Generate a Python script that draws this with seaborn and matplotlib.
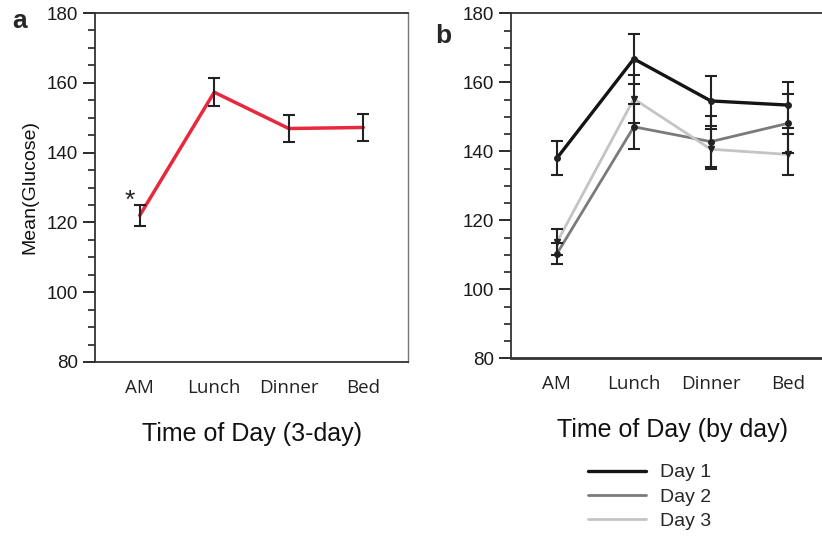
import matplotlib
matplotlib.use("Agg")
import matplotlib.pyplot as plt
import seaborn as sns
import pandas as pd
import numpy as np
from matplotlib.ticker import MultipleLocator
from matplotlib.lines import Line2D

sns.set_style("ticks")
plt.rcParams['font.family'] = ['Liberation Sans', 'DejaVu Sans']

# ---- data ----
times = ["AM", "Lunch", "Dinner", "Bed"]
mean_3day = [122.0, 157.3, 146.9, 147.2]
err_3day = [3.0, 4.0, 4.0, 3.8]

days = ["Day 1", "Day 2", "Day 3"]
mean_day1 = [138.0, 166.8, 154.6, 153.4]
err_day1 = [5.0, 7.3, 7.2, 6.6]
mean_day2 = [110.3, 147.1, 142.8, 148.1]
err_day2 = [3.0, 6.5, 7.3, 8.5]
mean_day3 = [113.6, 155.2, 140.6, 139.1]
err_day3 = [3.8, 6.9, 5.8, 6.0]

y_ticks = [80, 100, 120, 140, 160, 180]

red = "#e8283c"
day_colors = {"Day 1": "#141414", "Day 2": "#7a7a7a", "Day 3": "#c4c4c4"}
day_widths = {"Day 1": 2.4, "Day 2": 2.0, "Day 3": 2.0}
day_markers = {"Day 1": "o", "Day 2": "o", "Day 3": "v"}

fig = plt.figure(figsize=(8.22, 5.40), dpi=100)
ax_a = fig.add_axes([95/822, 1-362/540, (408-95)/822, (362-13)/540])
ax_b = fig.add_axes([510.7/822, 1-358.3/540, (834-510.7)/822, (358.3-13.3)/540])

pos = np.arange(len(times))

# ---- panel a ----
df_a = pd.DataFrame({"pos": pos, "mean": mean_3day})
sns.lineplot(data=df_a, x="pos", y="mean", ax=ax_a, color=red, linewidth=2.5)
ax_a.errorbar(pos, mean_3day, yerr=err_3day, fmt="none", ecolor="#222222",
              elinewidth=1.5, capsize=4.2, capthick=1.5, zorder=3)
ax_a.text(-0.13, 126.2, "*", fontsize=19, ha="center", va="center", color="#222222")

# ---- panel b ----
rows = []
for d, m in zip(days, [mean_day1, mean_day2, mean_day3]):
    for p, v in zip(pos, m):
        rows.append({"pos": p, "mean": v, "day": d})
df_b = pd.DataFrame(rows)
for d in days:
    sub = df_b[df_b["day"] == d]
    sns.lineplot(data=sub, x="pos", y="mean", ax=ax_b, color=day_colors[d],
                 linewidth=day_widths[d], legend=False)
for d, m, e in zip(days, [mean_day1, mean_day2, mean_day3], [err_day1, err_day2, err_day3]):
    ax_b.errorbar(pos, m, yerr=e, fmt=day_markers[d], color="#222222", markersize=4,
                  ecolor="#222222", elinewidth=1.5, capsize=4.2, capthick=1.5, zorder=3)

for ax, xlabel in [(ax_a, "Time of Day (3-day)"), (ax_b, "Time of Day (by day)")]:
    ax.set_xlim(-0.6, 3.6)
    ax.set_ylim(80, 180)
    ax.set_yticks(y_ticks)
    ax.yaxis.set_minor_locator(MultipleLocator(5))
    ax.set_xticks(pos)
    ax.set_xticklabels(times, family=["Open Sans", "DejaVu Sans"], fontsize=13.5, color="#222222")
    ax.tick_params(axis="x", length=0, pad=12)
    ax.tick_params(axis="y", which="major", length=9, width=1.3, pad=3, labelsize=13.5, colors="#1a1a1a")
    ax.tick_params(axis="y", which="minor", length=5, width=1.2, colors="#222222")
    for s in ax.spines.values():
        s.set_visible(True)
        s.set_color("#333333")
        s.set_linewidth(1.3)
    ax.set_xlabel(xlabel, fontsize=18, labelpad=18, color="#111111")
    ax.set_ylabel("")

ax_a.spines["right"].set_color("#777777")
ax_a.spines["right"].set_linewidth(1.0)
ax_b.spines["bottom"].set_linewidth(2.0)
ax_a.set_ylabel("Mean(Glucose)", fontsize=14, labelpad=6, color="#111111")

fig.text(20/822, 1-21/540, "a", fontsize=19, fontweight="bold", ha="center", va="center")
fig.text(443/822, 1-36/540, "b", fontsize=19, fontweight="bold", ha="center", va="center")

handles = [Line2D([0], [0], color=day_colors[d], linewidth=day_widths[d]) for d in days]
fig.legend(handles, days, loc="upper left", bbox_to_anchor=(578/822, 1-454/540),
           frameon=False, fontsize=14, handlelength=3.0, labelspacing=0.35,
           handletextpad=0.7, borderpad=0)

fig.savefig("out.png", dpi=100)
